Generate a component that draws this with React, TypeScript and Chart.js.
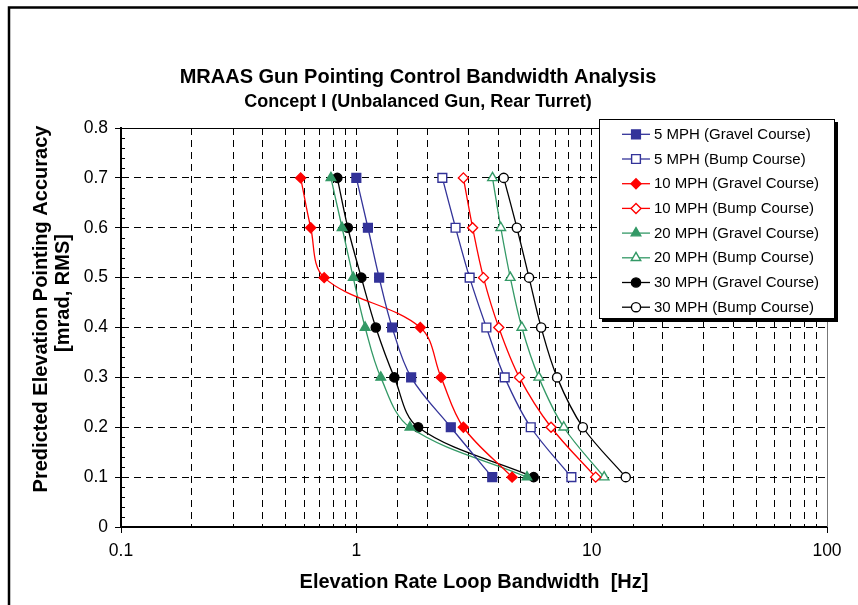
import React, { useEffect, useRef } from 'react';
import { Chart, registerables } from 'chart.js';

Chart.register(...registerables);

// ---- data ----
const yLevels = [0.7, 0.6, 0.5, 0.4, 0.3, 0.2, 0.1];
const mph5Gravel = [1.0, 1.12, 1.25, 1.42, 1.71, 2.52, 3.78];
const mph5Bump = [2.32, 2.64, 3.03, 3.57, 4.27, 5.51, 8.2];
const mph10Gravel = [0.58, 0.64, 0.73, 1.87, 2.29, 2.85, 4.59];
const mph10Bump = [2.85, 3.12, 3.47, 4.03, 4.93, 6.72, 10.4];
const mph20Gravel = [0.78, 0.87, 0.97, 1.09, 1.27, 1.69, 5.31];
const mph20Bump = [3.79, 4.11, 4.51, 5.05, 5.96, 7.61, 11.3];
const mph30Gravel = [0.83, 0.92, 1.05, 1.21, 1.45, 1.83, 5.67];
const mph30Bump = [4.23, 4.81, 5.42, 6.1, 7.13, 9.17, 13.96];

const seriesLabels = [
  '5 MPH (Gravel Course)',
  '5 MPH (Bump Course)',
  '10 MPH (Gravel Course)',
  '10 MPH (Bump Course)',
  '20 MPH (Gravel Course)',
  '20 MPH (Bump Course)',
  '30 MPH (Gravel Course)',
  '30 MPH (Bump Course)',
];
const seriesValues = [mph5Gravel, mph5Bump, mph10Gravel, mph10Bump, mph20Gravel, mph20Bump, mph30Gravel, mph30Bump];

const titleText = 'MRAAS Gun Pointing Control Bandwidth Analysis';
const subtitleText = 'Concept I (Unbalanced Gun, Rear Turret)';
const xTitle = 'Elevation Rate Loop Bandwidth  [Hz]';
const yTitle = ['Predicted Elevation Pointing Accuracy', '[mrad, RMS]'];

// ---- styles ----
const FONT = "'Liberation Sans', Arial, sans-serif";
const BLUE = '#333399';
const RED = '#FF0000';
const GREEN = '#339966';
const BLACK = '#000000';
const seriesColors = [BLUE, BLUE, RED, RED, GREEN, GREEN, BLACK, BLACK];
const seriesShapes = ['rect', 'rect', 'rectRot', 'rectRot', 'triangle', 'triangle', 'circle', 'circle'];
const seriesRadius = [6.2, 6.2, 5, 5, 5.5, 5.5, 4.6, 4.6];

function drawMarker(ctx: CanvasRenderingContext2D, shape: string, r: number, x: number, y: number, fill: string, stroke: string, lw: number) {
  ctx.beginPath();
  if (shape === 'rect') {
    const s = r * Math.SQRT1_2;
    ctx.rect(x - s, y - s, 2 * s, 2 * s);
  } else if (shape === 'rectRot') {
    ctx.moveTo(x, y - r);
    ctx.lineTo(x + r, y);
    ctx.lineTo(x, y + r);
    ctx.lineTo(x - r, y);
    ctx.closePath();
  } else if (shape === 'triangle') {
    for (let k = 0; k < 3; k++) {
      const a = -Math.PI / 2 + (k * 2 * Math.PI) / 3;
      const px = x + Math.cos(a) * r;
      const py = y + Math.sin(a) * r;
      if (k === 0) ctx.moveTo(px, py);
      else ctx.lineTo(px, py);
    }
    ctx.closePath();
  } else {
    ctx.arc(x, y, r, 0, Math.PI * 2);
  }
  ctx.fillStyle = fill;
  ctx.fill();
  ctx.lineWidth = lw;
  ctx.strokeStyle = stroke;
  ctx.stroke();
}

const decorPlugin = {
  id: 'decor',
  beforeDraw(chart: any) {
    const ctx = chart.ctx as CanvasRenderingContext2D;
    ctx.save();
    ctx.fillStyle = '#ffffff';
    ctx.fillRect(0, 0, chart.width, chart.height);
    ctx.restore();
  },
  afterDraw(chart: any) {
    const ctx = chart.ctx as CanvasRenderingContext2D;
    const a = chart.chartArea;
    const ys = chart.scales.y;
    ctx.save();
    // plot frame (top + right)
    ctx.strokeStyle = '#000';
    ctx.lineWidth = 1;
    ctx.beginPath();
    ctx.moveTo(a.left, Math.round(a.top) + 0.5);
    ctx.lineTo(a.right, Math.round(a.top) + 0.5);
    ctx.stroke();
    ctx.strokeStyle = '#777';
    ctx.beginPath();
    ctx.moveTo(Math.round(a.right) + 0.5, a.top);
    ctx.lineTo(Math.round(a.right) + 0.5, a.bottom);
    ctx.stroke();
    // minor y ticks (inside)
    ctx.strokeStyle = '#000';
    for (let i = 0; i <= 40; i++) {
      if (i % 5 === 0) continue;
      const py = Math.round(ys.getPixelForValue(i * 0.02)) + 0.5;
      ctx.beginPath();
      ctx.moveTo(a.left, py);
      ctx.lineTo(a.left + 4, py);
      ctx.stroke();
    }
    // outer frame
    ctx.lineWidth = 2.5;
    ctx.strokeStyle = '#000';
    ctx.strokeRect(9, 7.5, 900, 700);

    // y-axis title (two rotated lines)
    ctx.fillStyle = '#000';
    ctx.font = `bold 20px ${FONT}`;
    ctx.textAlign = 'center';
    ctx.textBaseline = 'middle';
    const yTitlePos = [
      { x: 41, y: 309 },
      { x: 63, y: 293 },
    ];
    yTitle.forEach((t, i) => {
      ctx.save();
      ctx.translate(yTitlePos[i].x, yTitlePos[i].y);
      ctx.rotate(-Math.PI / 2);
      ctx.fillText(t, 0, 0);
      ctx.restore();
    });

    // legend
    const x0 = 599, y0 = 119, w = 236, h = 200;
    ctx.fillStyle = '#000';
    ctx.fillRect(x0 + 3, y0 + 3, w, h);
    ctx.fillStyle = '#fff';
    ctx.fillRect(x0, y0, w, h);
    ctx.lineWidth = 1;
    ctx.strokeStyle = '#000';
    ctx.strokeRect(x0 + 0.5, y0 + 0.5, w - 1, h - 1);
    ctx.font = `15px ${FONT}`;
    ctx.textBaseline = 'middle';
    ctx.textAlign = 'left';
    chart.data.datasets.forEach((ds: any, i: number) => {
      const cy = 134.3 + i * 24.7;
      ctx.strokeStyle = ds.borderColor;
      ctx.lineWidth = ds.borderWidth;
      ctx.beginPath();
      ctx.moveTo(622, cy);
      ctx.lineTo(650, cy);
      ctx.stroke();
      drawMarker(ctx, ds.pointStyle, ds.pointRadius, 636, cy, ds.pointBackgroundColor, ds.pointBorderColor, ds.pointBorderWidth);
      ctx.fillStyle = '#000';
      ctx.fillText(ds.label, 654, cy + 0.5);
    });
    ctx.restore();
  },
};

function isDecade(v: number) {
  const l = Math.log10(v);
  return Math.abs(l - Math.round(l)) < 1e-6;
}

export default function App() {
  const ref = useRef<HTMLCanvasElement | null>(null);
  useEffect(() => {
    if (!ref.current) return;
    const datasets = seriesValues.map((vals, i) => {
      const filled = i % 2 === 0;
      return {
        label: seriesLabels[i],
        data: vals.map((x, k) => ({ x, y: yLevels[k] })),
        showLine: true,
        tension: 0.35,
        borderColor: seriesColors[i],
        borderWidth: 1.3,
        pointStyle: seriesShapes[i],
        pointRadius: seriesRadius[i],
        pointBackgroundColor: filled ? seriesColors[i] : '#ffffff',
        pointBorderColor: seriesColors[i],
        pointBorderWidth: 1.4,
      };
    });
    const chart = new Chart(ref.current, {
      type: 'scatter',
      data: { datasets },
      plugins: [decorPlugin],
      options: {
        responsive: false,
        animation: false,
        devicePixelRatio: 1,
        layout: { padding: { left: 9, right: 31, top: 65, bottom: 0 } },
        plugins: {
          legend: { display: false },
          tooltip: { enabled: false },
          title: {
            display: true,
            text: titleText,
            color: '#000',
            font: { family: FONT, size: 20, weight: 'bold', lineHeight: 1.2 },
            padding: { top: 0, bottom: 0 },
          },
          subtitle: {
            display: true,
            text: subtitleText,
            color: '#000',
            font: { family: FONT, size: 18, weight: 'bold', lineHeight: 1.2 },
            padding: { top: 2, bottom: 15.4 },
          },
        },
        scales: {
          x: {
            type: 'logarithmic',
            min: 0.1,
            max: 100,
            afterFit: (s: any) => { s.height = 78; },
            border: { display: true, color: '#000', width: 2, dash: [7, 5] },
            grid: {
              color: '#000',
              lineWidth: 1,
              drawTicks: true,
              tickLength: 6,
              tickColor: (c: any) => (c.tick && isDecade(c.tick.value) ? '#000' : 'rgba(0,0,0,0)'),
            },
            ticks: {
              autoSkip: false,
              maxRotation: 0,
              color: '#000',
              padding: 8,
              font: { family: FONT, size: 17.5 },
              callback: (v: any) => (isDecade(Number(v)) ? String(Number(v)) : ''),
            },
            title: {
              display: true,
              text: xTitle,
              color: '#000',
              font: { family: FONT, size: 20, weight: 'bold', lineHeight: 1.2 },
              padding: { top: 0, bottom: 10.5 },
            },
          },
          y: {
            min: 0,
            max: 0.8,
            afterFit: (s: any) => { s.width = 112; },
            border: { display: true, color: '#000', width: 2, dash: [7, 5] },
            grid: {
              color: '#000',
              lineWidth: 1,
              drawTicks: true,
              tickLength: 6,
              tickColor: '#000',
            },
            ticks: {
              stepSize: 0.1,
              color: '#000',
              padding: 7,
              font: { family: FONT, size: 17.5 },
            },
            title: { display: false },
          },
        },
      } as any,
    });
    return () => chart.destroy();
  }, []);
  return (
    <div style={{ position: 'fixed', left: 0, top: 0, width: 858, height: 605 }}>
      <canvas ref={ref} width={858} height={605} style={{ width: 858, height: 605, display: 'block' }} />
    </div>
  );
}
